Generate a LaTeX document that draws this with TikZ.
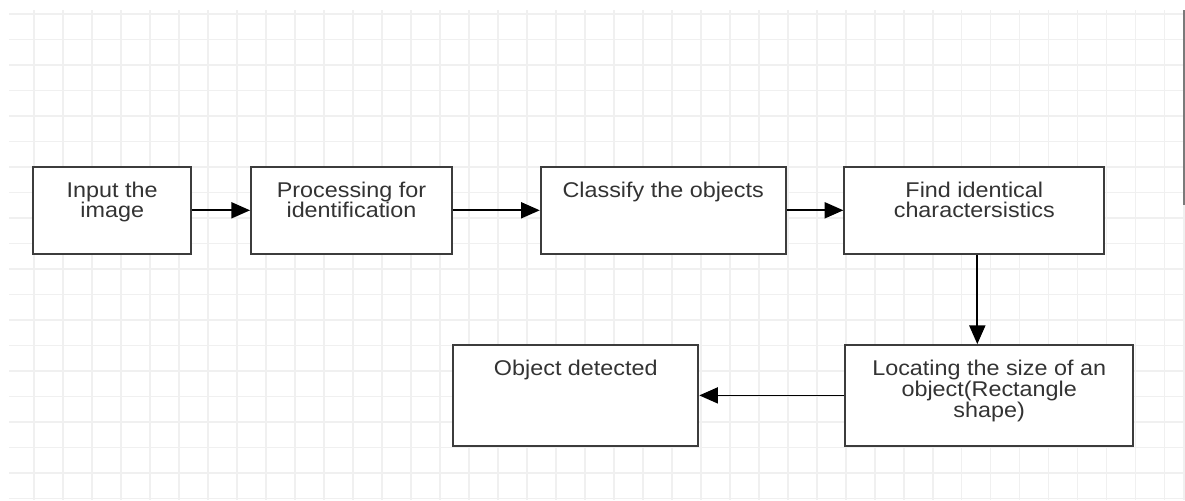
\documentclass[tikz,border=0pt]{standalone}
\usepackage{fontspec}
\setmainfont{Liberation Sans}
\newfontfamily\labelfont[FakeStretch=1.095]{Liberation Sans}
\usetikzlibrary{arrows.meta,calc}
\definecolor{gridgray}{HTML}{F0F0F0}
\definecolor{boxline}{HTML}{3C3C3C}
\definecolor{txt}{HTML}{333333}
\definecolor{edgegray}{HTML}{7A7A7A}
\tikzset{
  stepbox/.style={draw=boxline, line width=1.4pt, fill=white, rectangle, inner sep=0pt},
  boxtext/.style={anchor=north, inner sep=0pt, align=center, text=txt,
    font=\labelfont\fontsize{16}{15.6}\selectfont},
  flow/.style={draw=black, line width=1.3pt, -{Triangle[length=14pt,width=12pt]}},
  gridline/.style={draw=gridgray, line width=1.2pt}
}
\begin{document}
\begin{tikzpicture}[x=0.75pt, y=-0.75pt]
  \useasboundingbox[fill=white] (0,0) rectangle (1185,500);

  % background grid
  \foreach \k in {0,...,39}
    \draw[gridline] ({34+28.99*\k},10) -- ({34+28.99*\k},500);
  \foreach \k in {0,...,19}
    \draw[gridline] (9,{14+25.51*\k}) -- (1185,{14+25.51*\k});
  \draw[gridline] (1184,205) -- (1184,500);
  \draw[draw=edgegray, line width=1.2pt] (1184,10) -- (1184,205);

  % process boxes
  \node[stepbox, minimum width=157.7*0.75pt, minimum height=87.3*0.75pt] (b1) at (112.2,210.3) {};
  \node[stepbox, minimum width=201*0.75pt,   minimum height=87.3*0.75pt] (b2) at (351.5,210.3) {};
  \node[stepbox, minimum width=245*0.75pt,   minimum height=87.3*0.75pt] (b3) at (663.2,210.3) {};
  \node[stepbox, minimum width=260*0.75pt,   minimum height=87.3*0.75pt] (b4) at (974.3,210.3) {};
  \node[stepbox, minimum width=288.3*0.75pt, minimum height=100.7*0.75pt] (b5) at (989.2,395.4) {};
  \node[stepbox, minimum width=245*0.75pt,   minimum height=100.7*0.75pt] (b6) at (575.8,395.4) {};

  % box labels
  \node[boxtext] (t1) at ($(b1.north)+(0,15.7)$) {Input the\\image};
  \node[boxtext] (t2) at ($(b2.north)+(0,15.7)$) {Processing for\\identification};
  \node[boxtext] (t3) at ($(b3.north)+(0,15.7)$) {Classify the objects};
  \node[boxtext] (t4) at ($(b4.north)+(0,15.7)$) {Find identical\\charactersistics};
  \node[boxtext] (t5) at ($(b5.north)+(0,15.7)$) {Locating the size of an\\object(Rectangle\\shape)};
  \node[boxtext] (t6) at ($(b6.north)+(0,15.7)$) {Object detected};

  % connectors
  \draw[flow] (b1.east) -- (b2.west);
  \draw[flow] (b2.east) -- (b3.west);
  \draw[flow] (b3.east) -- (b4.west);
  \coordinate (down) at ($(b4.south)+(3,0)$);
  \draw[flow] (down) -- (down |- b5.north);
  \draw[flow] (b5.west) -- (b6.east);
\end{tikzpicture}
\end{document}
